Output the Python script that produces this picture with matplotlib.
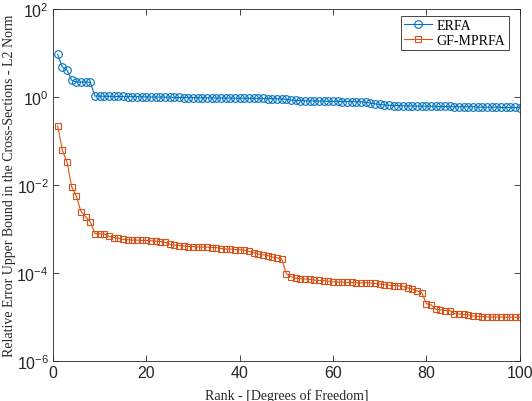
import numpy as np
import matplotlib
matplotlib.use("Agg")
import matplotlib.pyplot as plt

plt.rcParams['font.family'] = ['Liberation Sans', 'DejaVu Sans']
plt.rcParams['mathtext.default'] = 'regular'

# Data
rank = np.arange(1, 101)

erfa = [
    9.3, 4.8, 4.1, 2.4, 2.2, 2.2, 2.2, 2.15, 1.05,
    1.05, 1.04, 1.04, 1.03, 1.03, 1.03, 1.02, 1.02, 1.02, 1.01, 1.01, 1.0, 1.0, 1.0, 0.99, 0.99,
    0.98, 0.98, 0.97, 0.97, 0.97, 0.96, 0.96, 0.96, 0.96, 0.95, 0.95, 0.95, 0.95, 0.94, 0.94,
    0.94, 0.94, 0.93, 0.93, 0.93, 0.92, 0.92, 0.91, 0.90, 0.89,
    0.85, 0.84, 0.83, 0.82, 0.82, 0.81, 0.81, 0.81, 0.80, 0.80, 0.80, 0.79, 0.79, 0.79, 0.78, 0.78,
    0.76, 0.73, 0.70, 0.68, 0.66, 0.65,
    0.64, 0.64, 0.63, 0.63, 0.63, 0.62, 0.62, 0.62, 0.62, 0.61, 0.61, 0.61, 0.61, 0.60,
    0.60, 0.60, 0.60, 0.60, 0.59, 0.59, 0.59, 0.59, 0.59, 0.58, 0.58, 0.58, 0.58, 0.57,
]

gf_mprfa = [
    0.22, 0.062, 0.033, 0.0092, 0.0056, 0.0025, 0.0019, 0.00145, 0.00079, 0.00078, 0.00077,
    0.00068, 0.00064, 0.00062,
    0.00058, 0.00057, 0.00056, 0.00056, 0.00055, 0.00055, 0.00054, 0.00053, 0.00052, 0.00050,
    0.00045, 0.00043, 0.00042, 0.00041, 0.00040, 0.00040, 0.00039, 0.00039, 0.00039, 0.00038, 0.00038,
    0.00036, 0.00035, 0.00035, 0.00034, 0.00034, 0.00033,
    0.00031, 0.00029, 0.00027, 0.00026, 0.00025, 0.00023, 0.00022, 0.00021,
    9.5e-5, 8.3e-5,
    7.6e-5, 7.4e-5, 7.3e-5, 7.2e-5,
    6.9e-5, 6.8e-5, 6.7e-5, 6.5e-5,
    6.3e-5, 6.2e-5, 6.2e-5, 6.1e-5, 6.1e-5, 6.0e-5, 6.0e-5, 6.0e-5, 5.9e-5, 5.8e-5, 5.6e-5,
    5.4e-5, 5.3e-5, 5.2e-5, 5.1e-5, 5.0e-5,
    4.6e-5, 4.3e-5, 3.9e-5, 3.6e-5,
    2.0e-5, 1.9e-5,
    1.5e-5, 1.45e-5, 1.4e-5, 1.4e-5,
    1.2e-5, 1.17e-5, 1.15e-5, 1.12e-5,
    1.05e-5, 1.03e-5, 1.02e-5, 1.01e-5, 1.0e-5, 1.0e-5, 1.0e-5, 0.99e-5, 0.99e-5, 0.99e-5, 0.99e-5,
]

xticks = [0, 20, 40, 60, 80, 100]
yticks = [1e-6, 1e-4, 1e-2, 1e0, 1e2]

fig = plt.figure(figsize=(5.32, 4.02), dpi=100)
ax = fig.add_axes([0.0996, 0.0995, 0.8774, 0.8755])

ax.semilogy(rank, erfa, '-o', color='#0072BD', lw=0.8,
            markersize=5.5, markerfacecolor='none', markeredgewidth=0.8, label='ERFA')
ax.semilogy(rank, gf_mprfa, '-s', color='#D95319', lw=0.8,
            markersize=5, markerfacecolor='none', markeredgewidth=0.8, label='GF-MPRFA')

ax.set_xlim(0, 100)
ax.set_ylim(1e-6, 1e2)
ax.set_xticks(xticks)
ax.set_yticks(yticks)
ax.minorticks_off()
ax.tick_params(direction='in', top=True, right=True, length=4, width=0.6,
               color='#262626', labelsize=11.5, labelcolor='#262626', pad=3)
for sp in ax.spines.values():
    sp.set_color('#262626')
    sp.set_linewidth(0.6)

ax.set_xlabel('Rank - [Degrees of Freedom]', fontfamily='Liberation Serif',
              fontsize=10, color='#262626')
ax.set_ylabel('Relative Error Upper Bound in the Cross-Sections - L2 Norm',
              fontfamily='Liberation Serif', fontsize=10, color='#262626')
ax.xaxis.set_label_coords(0.5, -0.077)
ax.yaxis.set_label_coords(-0.08, 0.5)

leg = ax.legend(loc='upper right', prop={'family': 'Liberation Serif', 'size': 10},
                fancybox=False, framealpha=1, borderpad=0.25, handlelength=2.0,
                labelspacing=0.1, handletextpad=0.3, borderaxespad=0,
                bbox_to_anchor=(0.976, 0.981))
leg.get_frame().set_edgecolor('#262626')
leg.get_frame().set_linewidth(0.6)

fig.savefig('out.png', dpi=100)
